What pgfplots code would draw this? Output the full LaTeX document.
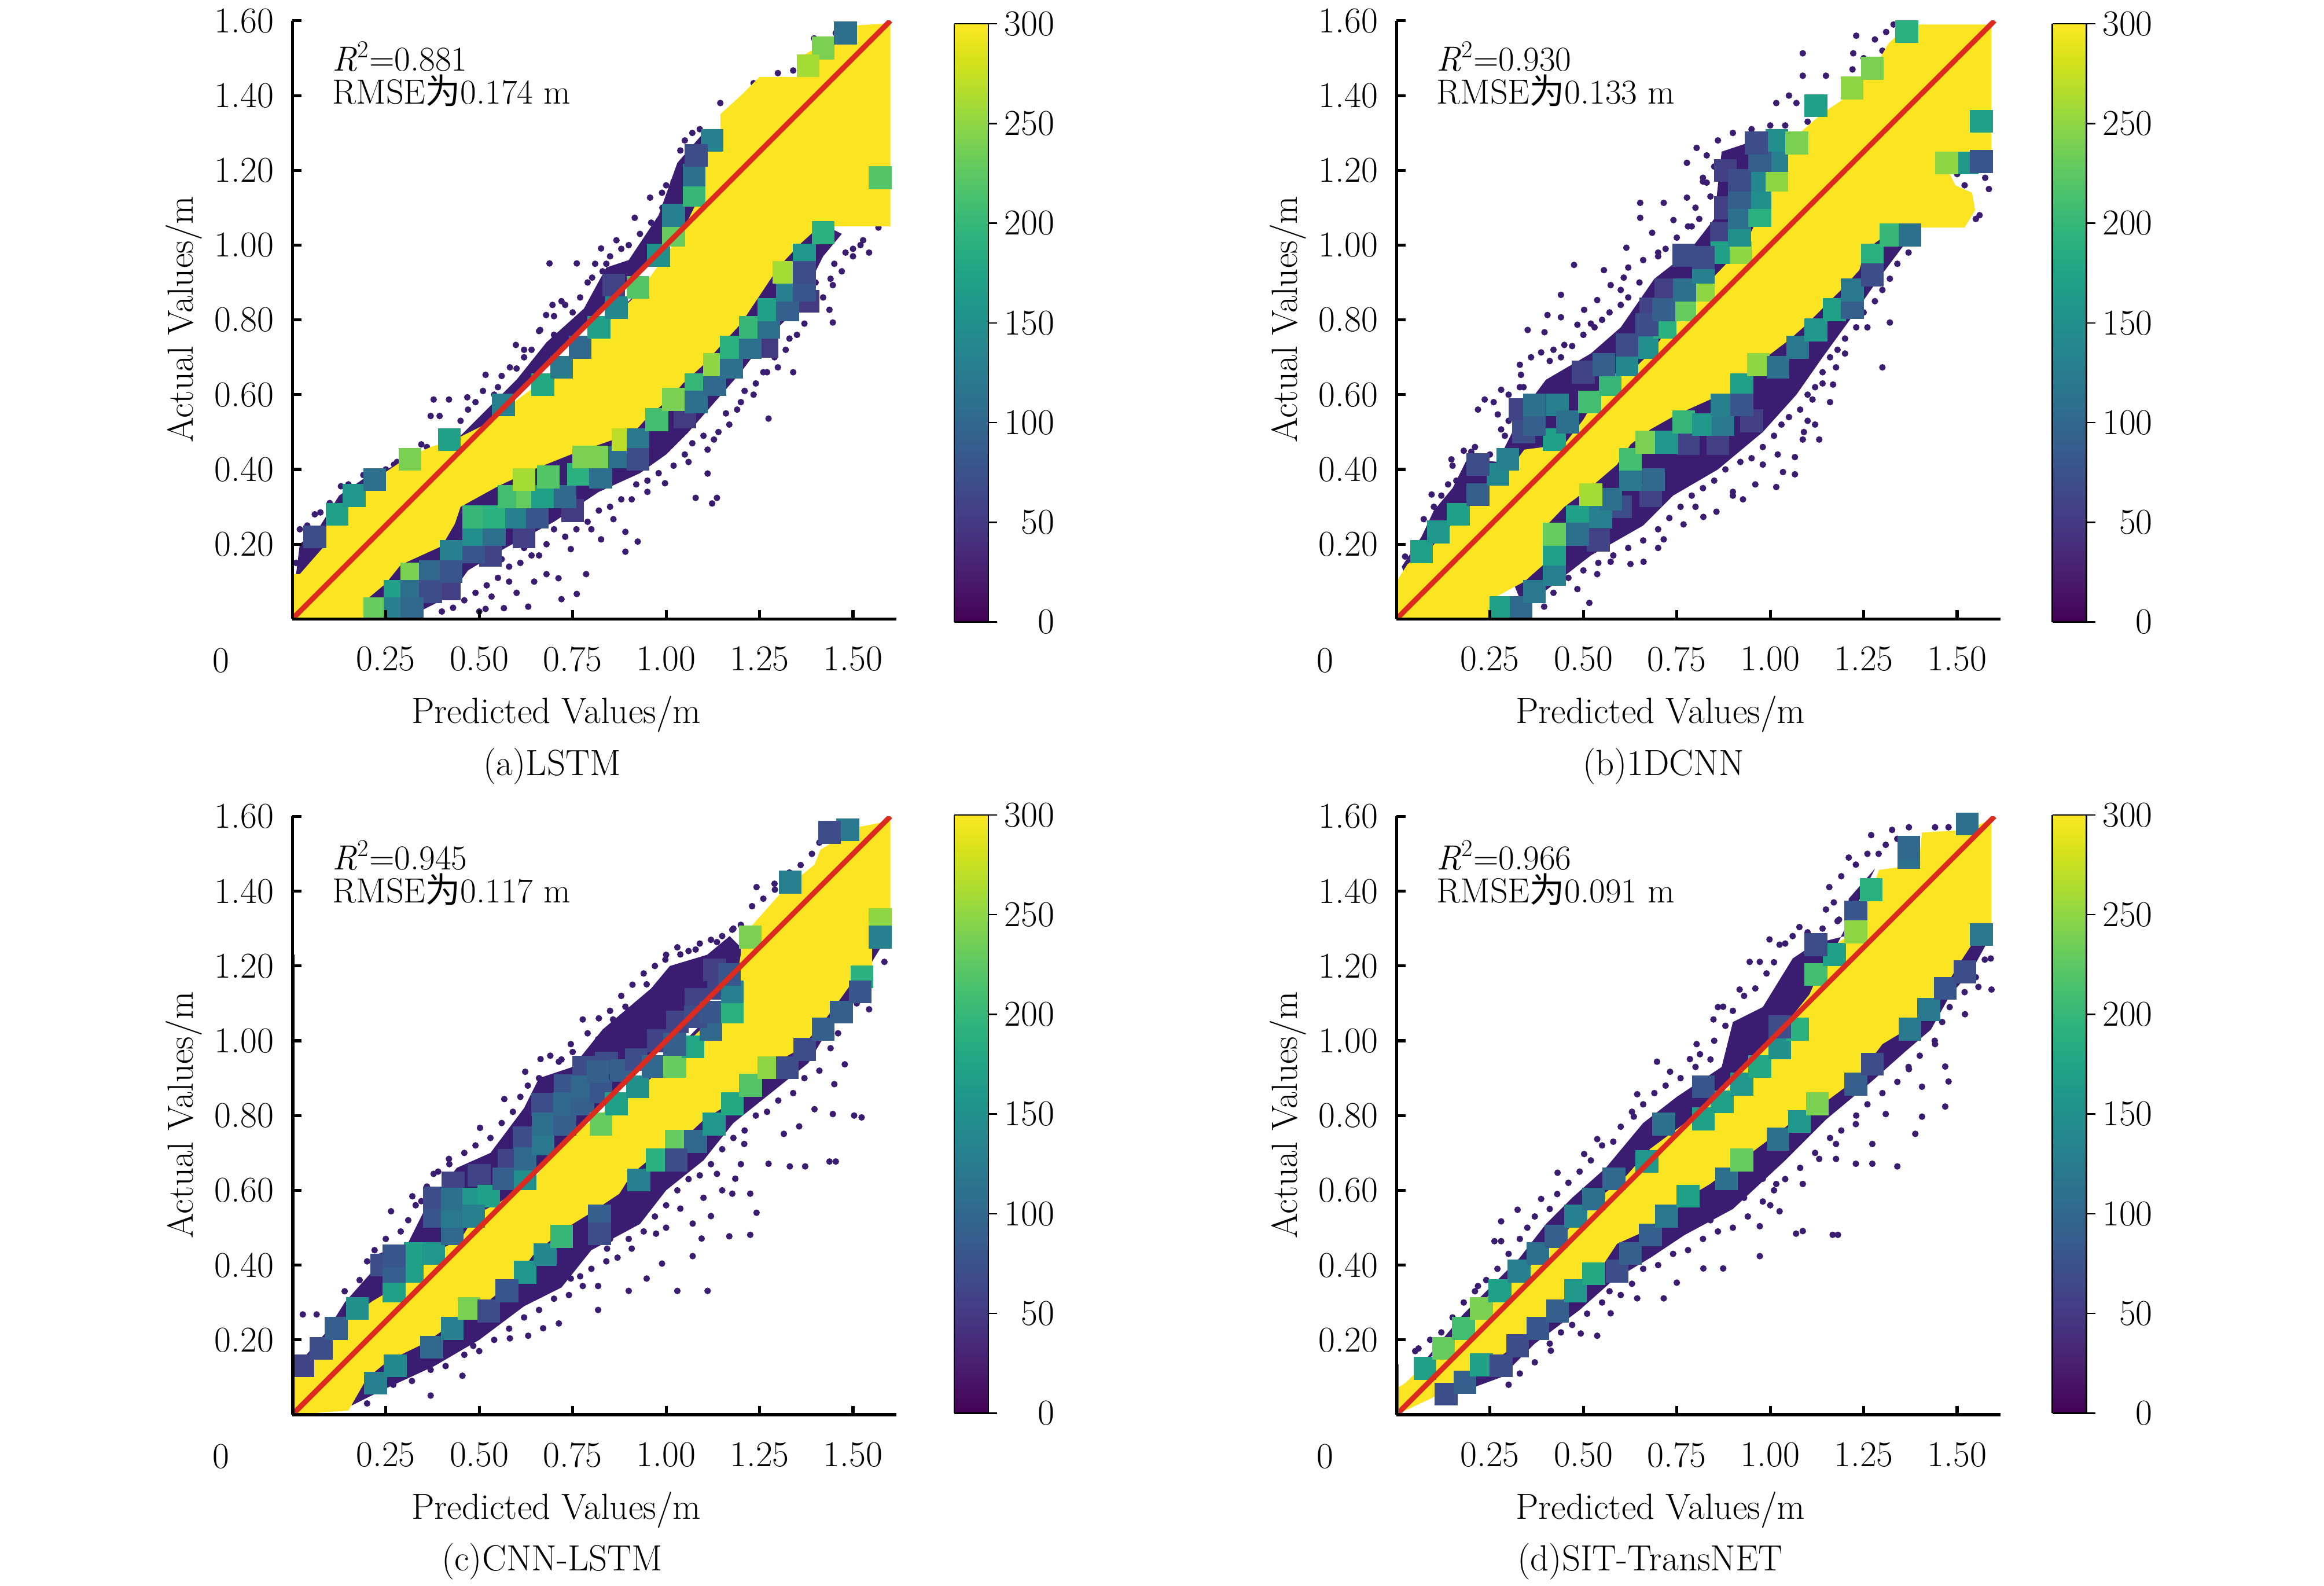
\documentclass[border=0pt]{standalone}
\usepackage{fontspec}
\usepackage{pgfplots}
\pgfplotsset{compat=1.18}
\newfontfamily\cjk{Noto Sans CJK SC}
\newcommand\fs{\fontsize{24.5}{29}\selectfont}
\newcommand\fst{\fontsize{23.5}{28}\selectfont}
\definecolor{ybar}{HTML}{FBE422}
\definecolor{dk}{HTML}{3A1C71}
\definecolor{rline}{HTML}{DC2A1E}
\pgfplotsset{
  /pgf/number format/assume math mode=true,
  tick label style={font=\fs},
  panel/.style={
    scale only axis, width=407pt, height=403pt,
    xmin=0, xmax=1.616, ymin=0, ymax=1.6,
    axis lines=left, axis line style={-, line width=2pt},
    axis on top, clip mode=individual,
    tick align=inside, major tick length=6pt, tick style={line width=2pt, black},
    xtick={0.25,0.5,0.75,1,1.25,1.5},
    ytick={0.2,0.4,0.6,0.8,1,1.2,1.4,1.6},
    xticklabel style={/pgf/number format/fixed,/pgf/number format/fixed zerofill,/pgf/number format/precision=2, yshift=-15pt},
    yticklabel style={/pgf/number format/fixed,/pgf/number format/fixed zerofill,/pgf/number format/precision=2, xshift=-9pt},
    colormap name=viridis, point meta min=0, point meta max=300,
    colorbar sampled,
  },
  cbstyle/.style n args={2}{
    colorbar style={
      at={(#1,#2)}, anchor=north west,
      width=23pt, height=403pt, samples=120,
      ytick={0,50,100,150,200,250,300},
      ytick pos=right, tick align=outside, major tick length=6pt,
      tick style={line width=1pt, black},
      axis line style={line width=1pt},
      yticklabel style={anchor=east, xshift=42pt, font=\fs},
    },
  },
  dark/.style={fill=dk, draw=none},
  yel/.style={fill=ybar, draw=none},
  dots/.style={only marks, mark=*, mark size=2pt, color=dk, mark options={draw=dk, fill=dk}},
  blocks/.style={scatter, only marks, mark=square*, mark size=7.5pt, point meta=explicit,
    scatter/use mapped color={draw=mapped color, fill=mapped color}},
  diag/.style={rline, line width=3.5pt, no marks},
}
\newcommand\labels[6]{%
  \node[anchor=west, font=\fst] at (axis description cs:0.058,#1) {\textit{R}\textsuperscript{2}=#3};
  \node[anchor=west, font=\fst] at (axis description cs:0.058,#2) {RMSE{\cjk 为}#4 m};
  \node[font=\fs] at (axis description cs:-0.118,-0.0695) {0};
  \node[font=\fs] at (axis description cs:0.437,-0.159) {Predicted Values/m};
  \node[font=\fs, rotate=90] at (axis description cs:-0.18,0.501) {Actual Values/m};
  \node[font=\fs] at (axis description cs:#6,-0.246) {#5};
}
\begin{document}
\begin{tikzpicture}
\path[use as bounding box] (0pt,0pt) rectangle (1566pt,1068.4pt);
% ---------------- (a)
\begin{axis}[panel, cbstyle={1.0958}{0.995}, at={(197pt,651.4pt)}, anchor=south west]
\addplot[dark] coordinates {(0.30,0)(0.42,0.06)(0.47,0.13)(0.57,0.19)(0.70,0.26)(0.82,0.34)(0.93,0.39)(1.0,0.44)(1.06,0.50)(1.13,0.58)(1.20,0.66)(1.26,0.74)(1.33,0.81)(1.38,0.89)(1.42,0.97)(1.47,1.03)(1.43,1.05)(1.3,1.25)(0.5,0.45)(0.19,0.15)(0.19,0)} -- cycle;
\addplot[dark] coordinates {(0.01,0.12)(0.02,0.20)(0.075,0.25)(0.125,0.33)(0.205,0.385)(0.29,0.415)(0.45,0.49)(0.52,0.56)(0.60,0.64)(0.68,0.74)(0.78,0.83)(0.84,0.94)(0.90,0.96)(0.98,1.08)(1.03,1.22)(1.10,1.30)(1.1,1.1)(0.6,0.6)(0.3,0.3)(0.05,0.05)} -- cycle;
\addplot[dots] coordinates {(0.688,0.951)(0.761,0.951)(0.916,1.073)(0.826,0.991)(0.867,1.013)(0.802,0.913)(0.696,0.84)(0.679,0.813)(0.663,0.773)(0.598,0.733)(0.517,0.653)(0.582,0.673)(0.378,0.587)(0.37,0.543)(0.394,0.543)(0.468,0.593)(0.419,0.587)(0.345,0.467)(0.272,0.413)(0.06,0.28)(0.02,0.12)(0.077,0.18)(1.038,1.213)(1.038,1.253)(0.957,1.127)(0.989,1.14)(1.145,1.38)(1.234,1.433)(1.299,1.46)(1.34,1.467)(1.396,1.553)(1.454,1.567)(1.543,0.98)(1.527,1.013)(1.568,1.047)(1.446,0.893)(1.437,0.827)(1.446,0.793)(1.34,0.66)(1.274,0.536)(1.299,0.673)(1.234,0.6)(1.169,0.52)(1.128,0.48)(1.111,0.453)(1.111,0.389)(1.079,0.324)(1.136,0.324)(1.123,0.309)(0.997,0.363)(0.891,0.233)(0.924,0.207)(0.891,0.18)(0.786,0.12)(0.712,0.109)(0.761,0.067)(0.72,0.053)(0.68,0.12)(0.631,0.033)(0.566,0.029)(0.533,0.06)(0.517,0.027)(0.647,0.1)(0.745,0.187)(0.826,0.213)(0.859,0.267)(0.908,0.32)(1.40,0.90)(1.38,0.84)(1.33,0.75)(1.26,0.66)(1.20,0.58)(1.06,0.42)(0.95,0.34)(0.80,0.24)(0.66,0.17)(0.58,0.10)(1.50,0.99)(1.47,0.93)(0.55,0.62)(0.62,0.72)(0.72,0.85)(0.84,0.95)(0.98,1.05)(1.02,1.17)
(0.02,0.24)(0.04,0.25)(0.01,0.15)(0.03,0.17)(0.075,0.285)(0.10,0.31)(0.13,0.355)(0.15,0.36)(0.19,0.385)(0.25,0.40)(0.28,0.42)(0.36,0.46)(0.40,0.49)(0.45,0.53)(0.47,0.56)(0.49,0.58)(0.51,0.61)(0.54,0.60)(0.56,0.65)(0.60,0.67)(0.62,0.70)(0.64,0.72)(0.66,0.77)(0.70,0.76)(0.70,0.81)(0.73,0.84)(0.75,0.82)(0.77,0.86)(0.79,0.90)(0.81,0.95)(0.83,0.93)(0.85,0.97)(0.88,0.99)(0.90,1.00)(0.93,1.03)(0.96,1.06)(0.99,1.10)(1.00,1.16)(1.03,1.19)(1.05,1.28)(1.07,1.30)(1.09,1.31)
(1.52,1.0)(1.50,0.97)(1.48,0.98)(1.45,0.95)(1.44,0.91)(1.42,0.86)(1.39,0.84)(1.37,0.79)(1.35,0.76)(1.32,0.72)(1.29,0.70)(1.27,0.66)(1.24,0.63)(1.21,0.61)(1.19,0.56)(1.16,0.55)(1.14,0.50)(1.10,0.49)(1.07,0.47)(1.05,0.44)(1.02,0.41)(0.98,0.39)(0.95,0.37)(0.92,0.36)(0.88,0.32)(0.85,0.30)(0.82,0.29)(0.79,0.26)(0.76,0.24)(0.73,0.22)(0.70,0.24)(0.68,0.20)(0.64,0.17)(0.61,0.15)(0.58,0.14)(0.55,0.11)(0.52,0.09)(0.49,0.07)(0.46,0.05)(0.43,0.03)(0.40,0.02)(0.60,0.07)(0.50,0.02)(0.56,0.16)(0.62,0.19)};
\addplot[yel] coordinates {(0,0.12)(0.02,0.12)(0.09,0.20)(0.09,0.27)(0.17,0.32)(0.215,0.37)(0.305,0.43)(0.37,0.46)(0.435,0.48)(0.515,0.52)(0.58,0.57)(0.66,0.63)(0.745,0.71)(0.84,0.79)(0.925,0.87)(0.99,0.96)(1.04,1.03)(1.08,1.11)(1.10,1.19)(1.10,1.25)(1.145,1.29)(1.145,1.35)(1.20,1.40)(1.25,1.45)(1.35,1.45)(1.355,1.50)(1.445,1.555)(1.495,1.587)(1.6,1.593)(1.6,1.05)(1.41,1.05)(1.355,1.0)(1.30,0.94)(1.24,0.85)(1.20,0.79)(1.145,0.73)(1.10,0.68)(1.045,0.63)(1.005,0.585)(0.955,0.545)(0.91,0.495)(0.86,0.48)(0.745,0.44)(0.645,0.40)(0.55,0.355)(0.45,0.30)(0.435,0.255)(0.40,0.195)(0.29,0.145)(0.25,0.095)(0.19,0.045)(0.19,0)(0,0)} -- cycle;
\addplot[blocks] coordinates {(0.42,0.08)[55](0.53,0.17)[60](0.62,0.22)[55](0.75,0.29)[50](1.05,0.54)[50](1.27,0.73)[50](1.38,0.85)[50]};
\addplot[blocks] coordinates {(0.06,0.22)[70](0.12,0.28)[170](0.165,0.33)[160](0.22,0.373)[110](0.315,0.427)[240](0.42,0.48)[170](0.565,0.573)[130](0.67,0.627)[180](0.72,0.673)[120](0.77,0.727)[100](0.82,0.78)[170](0.867,0.833)[140](0.925,0.887)[220](0.98,0.973)[150](1.02,1.027)[230](1.02,1.08)[130](1.075,1.133)[200](1.075,1.187)[110](1.123,1.28)[130](1.42,1.527)[240](1.38,1.48)[260](1.48,1.567)[110](1.08,1.24)[70](0.86,0.893)[60](1.573,1.18)[220]
(0.22,0.027)[230](0.275,0.073)[170](0.275,0.027)[130](0.32,0.12)[240](0.32,0.073)[110](0.37,0.127)[100](0.37,0.073)[70](0.32,0.027)[100](0.425,0.18)[130](0.485,0.18)[80](0.425,0.127)[80](0.485,0.227)[150](0.54,0.227)[110](0.485,0.273)[200](0.54,0.273)[190](0.6,0.273)[130](0.655,0.273)[80](0.58,0.327)[210](0.63,0.327)[230](0.67,0.327)[170](0.73,0.327)[100](0.62,0.373)[260](0.685,0.38)[220](0.765,0.387)[190](0.825,0.38)[110](0.78,0.433)[240](0.825,0.433)[240](0.875,0.433)[110](0.885,0.48)[270](0.925,0.48)[120](0.925,0.427)[70](0.975,0.533)[210](1.02,0.587)[240](1.08,0.627)[200](1.08,0.58)[110](1.13,0.627)[100](1.13,0.68)[250](1.175,0.673)[110](1.175,0.727)[190](1.225,0.727)[110](1.225,0.78)[200](1.275,0.78)[110](1.275,0.827)[170](1.325,0.827)[90](1.325,0.88)[130](1.37,0.88)[80](1.315,0.927)[260](1.37,0.973)[160](1.37,0.927)[70](1.42,1.033)[190]};
\addplot[diag] coordinates {(0,0)(1.6,1.6)};
\labels{0.94}{0.883}{0.881}{0.174}{(a)LSTM}{0.43}
\end{axis}
% ---------------- (b)
\begin{axis}[panel, cbstyle={1.086}{0.995}, at={(941pt,651.4pt)}, anchor=south west]
\addplot[dark] coordinates {(0.014,0.14)(0.067,0.22)(0.10,0.29)(0.15,0.35)(0.19,0.43)(0.27,0.42)(0.34,0.56)(0.40,0.64)(0.52,0.71)(0.60,0.78)(0.69,0.91)(0.78,0.98)(0.85,1.07)(0.87,1.25)(0.99,1.29)(1.07,1.30)(1.1,1.1)(0.6,0.6)(0.3,0.3)(0.05,0.05)} -- cycle;
\addplot[dark] coordinates {(0.34,0.03)(0.43,0.10)(0.52,0.17)(0.66,0.25)(0.74,0.33)(0.86,0.40)(0.98,0.50)(1.07,0.60)(1.14,0.70)(1.22,0.81)(1.29,0.91)(1.35,0.99)(1.39,1.04)(1.3,1.25)(0.5,0.45)(0.27,0.2)} -- cycle;
\addplot[dots] coordinates {(1.087,1.513)(1.23,1.56)(1.222,1.513)(1.087,1.453)(1.149,1.453)(1.016,1.38)(1.07,1.38)(0.803,1.26)(0.777,1.22)(0.83,1.167)(0.777,1.127)(0.715,1.113)(0.652,1.113)(0.652,1.073)(0.741,1.067)(0.684,1.033)(0.615,0.993)(0.475,0.947)(0.555,0.933)(0.608,0.913)(0.573,0.893)(0.44,0.867)(0.537,0.853)(0.502,0.827)(0.404,0.813)(0.44,0.807)(0.351,0.773)(0.396,0.767)(0.484,0.787)(0.449,0.733)(0.387,0.713)(0.333,0.653)(0.28,0.613)(0.236,0.587)(0.218,0.56)(0.271,0.547)(0.28,0.507)(0.2,0.447)(0.147,0.427)(0.138,0.36)(0.094,0.333)(0.073,0.267)(0.023,0.167)
(1.3,0.673)(1.32,0.793)(1.176,0.673)(1.168,0.627)(1.113,0.587)(1.131,0.48)(1.087,0.48)(1.066,0.433)(1.034,0.393)(1.066,0.387)(1.016,0.353)(0.98,0.413)(0.927,0.32)(0.856,0.287)(0.821,0.273)(0.768,0.253)(0.715,0.213)(0.661,0.153)(0.626,0.147)(0.573,0.153)(0.537,0.12)(0.484,0.08)(0.516,0.043)(0.395,0.033)(0.70,0.19)(0.80,0.30)(0.90,0.34)(1.02,0.44)(1.10,0.53)(1.14,0.63)(1.20,0.71)(1.26,0.78)(0.34,0.62)(0.42,0.72)(0.52,0.79)(0.60,0.88)(0.70,0.98)(0.79,1.05)(0.82,1.18)
(0.10,0.30)(0.12,0.33)(0.16,0.37)(0.15,0.41)(0.18,0.45)(0.21,0.46)(0.25,0.44)(0.29,0.49)(0.30,0.53)(0.26,0.58)(0.30,0.60)(0.33,0.62)(0.33,0.68)(0.36,0.70)(0.41,0.69)(0.44,0.70)(0.47,0.73)(0.50,0.76)(0.53,0.78)(0.55,0.80)(0.57,0.82)(0.60,0.84)(0.62,0.86)(0.65,0.90)(0.62,0.94)(0.66,0.96)(0.70,0.97)(0.72,0.99)(0.75,1.02)(0.78,1.05)(0.81,1.07)(0.80,1.10)(0.84,1.13)(0.82,1.17)(0.85,1.21)(0.83,1.24)(0.86,1.28)(0.90,1.30)(0.95,1.31)(1.00,1.32)(1.04,1.32)(1.10,1.33)(1.12,1.38)(1.05,1.40)(1.22,1.47)(1.25,1.50)(1.28,1.55)(1.31,1.57)(1.33,1.59)(1.30,1.52)
(0.42,0.07)(0.46,0.11)(0.50,0.13)(0.54,0.15)(0.58,0.17)(0.62,0.19)(0.66,0.21)(0.70,0.24)(0.73,0.27)(0.76,0.30)(0.79,0.33)(0.82,0.35)(0.85,0.37)(0.88,0.40)(0.92,0.42)(0.95,0.43)(0.98,0.46)(1.01,0.49)(1.03,0.52)(1.05,0.54)(1.08,0.56)(1.10,0.60)(1.12,0.62)(1.14,0.66)(1.16,0.70)(1.18,0.72)(1.20,0.75)(1.23,0.78)(1.25,0.82)(1.28,0.85)(1.30,0.88)(1.32,0.91)(1.34,0.95)(1.37,0.98)(1.39,1.01)(0.96,0.36)(0.90,0.33)(1.09,0.50)(1.12,0.52)(1.16,0.58)(1.585,1.15)(1.575,1.18)(1.56,1.08)(1.55,1.07)(1.50,1.19)(1.52,1.16)(1.55,1.20)};
\addplot[yel] coordinates {(0,0.10)(0.03,0.147)(0.095,0.193)(0.147,0.253)(0.2,0.307)(0.245,0.353)(0.298,0.393)(0.342,0.453)(0.449,0.467)(0.50,0.533)(0.555,0.627)(0.626,0.66)(0.688,0.72)(0.741,0.80)(0.803,0.867)(0.892,0.96)(0.945,1.027)(0.989,1.12)(1.034,1.2)(1.05,1.253)(1.087,1.307)(1.14,1.353)(1.21,1.4)(1.282,1.48)(1.317,1.54)(1.353,1.573)(1.397,1.59)(1.592,1.59)(1.592,1.24)(1.46,1.233)(1.495,1.16)(1.54,1.14)(1.548,1.093)(1.52,1.047)(1.406,1.047)(1.309,1.027)(1.255,0.987)(1.238,0.933)(1.202,0.893)(1.149,0.84)(1.096,0.787)(1.051,0.747)(0.989,0.70)(0.936,0.653)(0.892,0.60)(0.839,0.587)(0.75,0.547)(0.679,0.507)(0.626,0.467)(0.59,0.413)(0.52,0.353)(0.449,0.30)(0.404,0.253)(0.395,0.147)(0.342,0.10)(0.254,0.053)(0.245,0)(0,0)} -- cycle;
\addplot[blocks] coordinates {(0.34,0.50)[70](0.33,0.56)[60](0.5,0.66)[60](0.68,0.83)[60](0.72,0.88)[55](0.87,1.03)[60](0.88,1.1)[55](0.88,1.2)[55](0.54,0.21)[60](0.60,0.30)[70](0.68,0.33)[60](0.78,0.47)[60](0.86,0.47)[55](0.95,0.53)[55]};
\addplot[blocks] coordinates {(0.067,0.18)[170](0.112,0.233)[160](0.165,0.28)[170](0.218,0.333)[90](0.271,0.387)[140](0.298,0.427)[130](0.218,0.413)[70](0.422,0.48)[170](0.369,0.52)[90](0.369,0.573)[110](0.431,0.573)[130](0.458,0.527)[110](0.517,0.58)[210](0.572,0.627)[200](0.617,0.68)[140](0.555,0.68)[90](0.67,0.727)[150](0.617,0.733)[70](0.718,0.78)[190](0.67,0.787)[70](0.771,0.827)[230](0.715,0.827)[90](0.821,0.88)[250](0.771,0.88)[110](0.821,0.927)[130](0.768,0.973)[70](0.871,0.98)[170](0.922,0.98)[250](0.821,0.967)[70](0.918,1.027)[150](0.918,1.073)[110](0.972,1.08)[190](0.972,1.127)[150](0.918,1.127)[90](0.972,1.173)[140](1.018,1.173)[250](0.918,1.173)[70](1.018,1.227)[130](0.972,1.227)[90](1.018,1.28)[150](1.071,1.273)[240](0.963,1.273)[70](1.122,1.373)[170](1.219,1.42)[250](1.273,1.473)[240](1.365,1.571)[190](1.565,1.331)[170](1.526,1.22)[160](1.472,1.22)[250](1.565,1.224)[80]
(0.28,0.03)[170](0.333,0.03)[100](0.369,0.073)[120](0.422,0.12)[130](0.422,0.173)[170](0.422,0.227)[230](0.484,0.273)[170](0.546,0.273)[130](0.484,0.227)[110](0.573,0.32)[110](0.52,0.333)[260](0.626,0.373)[120](0.688,0.373)[100](0.626,0.427)[210](0.67,0.473)[240](0.723,0.473)[160](0.768,0.527)[200](0.821,0.52)[160](0.874,0.52)[120](0.871,0.573)[130](0.924,0.627)[170](0.924,0.573)[80](0.968,0.68)[250](1.021,0.673)[110](1.073,0.727)[120](1.122,0.773)[160](1.172,0.827)[170](1.22,0.833)[90](1.22,0.88)[120](1.273,0.973)[190](1.323,1.027)[200](1.374,1.027)[110](1.273,0.92)[70]};
\addplot[diag] coordinates {(0,0)(1.6,1.6)};
\labels{0.94}{0.883}{0.930}{0.133}{(b)1DCNN}{0.442}
\end{axis}
% ---------------- (c)
\begin{axis}[panel, cbstyle={1.0958}{1.0025}, at={(197pt,115.4pt)}, anchor=south west]
\addplot[dark] coordinates {(0.011,0.13)(0.09,0.22)(0.14,0.30)(0.22,0.39)(0.23,0.43)(0.31,0.46)(0.36,0.56)(0.44,0.66)(0.53,0.70)(0.62,0.82)(0.66,0.90)(0.75,0.93)(0.83,1.03)(0.96,1.14)(1.01,1.20)(1.11,1.23)(1.17,1.28)(1.20,1.25)(1.2,1.2)(0.6,0.6)(0.2,0.2)(0.05,0.05)} -- cycle;
\addplot[dark] coordinates {(0.158,0.024)(0.25,0.07)(0.38,0.13)(0.50,0.20)(0.62,0.29)(0.72,0.34)(0.80,0.44)(0.93,0.51)(1.0,0.60)(1.10,0.68)(1.18,0.78)(1.28,0.86)(1.38,0.94)(1.44,1.04)(1.50,1.12)(1.55,1.21)(1.6,1.291)(1.55,1.5)(0.6,0.55)(0.2,0.15)} -- cycle;
\addplot[dots] coordinates {(0.028,0.268)(0.065,0.268)(0.264,0.544)(0.321,0.584)(0.345,0.571)(0.419,0.684)(0.378,0.644)(0.502,0.767)(0.567,0.844)(0.623,0.917)(0.664,0.951)(0.713,0.944)(0.745,0.991)(0.777,1.057)(0.818,1.004)(0.858,1.057)(0.891,1.091)(0.948,1.151)(0.998,1.217)(1.038,1.231)(1.079,1.244)(1.242,1.411)(1.291,1.404)(1.177,1.297)(1.136,1.264)
(0.37,0.051)(0.455,0.104)(0.484,0.184)(0.582,0.204)(0.671,0.231)(0.713,0.244)(0.818,0.28)(0.631,0.211)(0.777,0.344)(0.818,0.344)(0.9,0.331)(0.948,0.364)(1.03,0.331)(1.111,0.331)(1.071,0.424)(1.169,0.477)(1.225,0.481)(1.095,0.471)(1.12,0.531)(1.242,0.54)(1.177,0.591)(1.225,0.591)(1.274,0.671)(1.331,0.664)(1.372,0.664)(1.437,0.677)(1.454,0.677)(1.315,0.751)(1.356,0.771)(1.446,0.804)(1.503,0.8)(1.523,0.795)(1.45,0.884)(1.543,1.084)(1.584,1.211)(1.478,0.937)(1.397,0.817)(0.973,0.484)(0.908,0.444)(0.989,0.404)(0.842,0.444)(0.745,0.364)(1.071,0.511)(1.038,0.551)(1.209,0.724)(1.185,0.631)(1.136,0.644)
(0.10,0.25)(0.14,0.33)(0.18,0.36)(0.20,0.41)(0.22,0.44)(0.25,0.47)(0.29,0.49)(0.31,0.52)(0.33,0.56)(0.36,0.61)(0.39,0.65)(0.42,0.67)(0.46,0.70)(0.49,0.72)(0.53,0.74)(0.56,0.78)(0.59,0.81)(0.61,0.85)(0.63,0.88)(0.66,0.90)(0.69,0.96)(0.72,0.95)(0.75,0.97)(0.79,1.02)(0.82,1.06)(0.85,1.08)(0.88,1.12)(0.91,1.15)(0.94,1.18)(0.97,1.20)(1.00,1.23)(1.03,1.25)(1.06,1.24)(1.09,1.26)(1.12,1.27)(1.15,1.28)(1.18,1.30)(1.20,1.31)(1.23,1.36)(1.26,1.38)(1.29,1.42)(1.33,1.45)(1.36,1.47)(1.41,1.53)(1.39,1.50)(1.43,1.56)
(0.20,0.03)(0.27,0.08)(0.32,0.09)(0.37,0.12)(0.41,0.13)(0.46,0.16)(0.50,0.17)(0.54,0.20)(0.58,0.23)(0.62,0.26)(0.66,0.28)(0.70,0.31)(0.74,0.32)(0.77,0.37)(0.80,0.39)(0.84,0.41)(0.87,0.42)(0.90,0.47)(0.94,0.49)(0.97,0.53)(1.00,0.56)(1.03,0.60)(1.06,0.63)(1.09,0.64)(1.12,0.67)(1.15,0.71)(1.18,0.74)(1.21,0.76)(1.24,0.80)(1.27,0.81)(1.30,0.84)(1.34,0.86)(1.37,0.90)(1.41,0.92)(1.44,0.98)(1.46,1.02)(1.49,1.06)(1.51,1.10)(0.85,0.47)(0.92,0.55)(1.0,0.50)(0.95,0.60)(1.10,0.58)(1.15,0.60)(1.2,0.67)};
\addplot[yel] coordinates {(0,0.11)(0.036,0.15)(0.093,0.184)(0.15,0.257)(0.215,0.304)(0.305,0.357)(0.386,0.437)(0.451,0.47)(0.492,0.537)(0.549,0.564)(0.647,0.631)(0.729,0.737)(0.81,0.791)(0.891,0.857)(0.957,0.897)(1.038,0.977)(1.12,1.057)(1.193,1.191)(1.209,1.284)(1.25,1.331)(1.315,1.404)(1.397,1.471)(1.413,1.511)(1.511,1.571)(1.6,1.588)(1.6,1.297)(1.551,1.284)(1.551,1.191)(1.494,1.151)(1.446,1.084)(1.405,1.031)(1.356,0.977)(1.283,0.937)(1.218,0.884)(1.169,0.831)(1.103,0.791)(1.046,0.737)(0.957,0.684)(0.908,0.644)(0.875,0.591)(0.794,0.537)(0.729,0.497)(0.647,0.431)(0.598,0.364)(0.5,0.284)(0.419,0.237)(0.354,0.191)(0.256,0.144)(0.199,0.097)(0.15,0.011)(0,0)} -- cycle;
\addplot[blocks] coordinates {(0.58,0.68)[60](0.62,0.74)[70](0.67,0.83)[70](0.73,0.88)[80](0.78,0.93)[70](0.84,0.94)[70](0.88,0.92)[90](0.92,0.95)[70](0.98,1.0)[60](1.03,1.05)[60](1.08,1.11)[60](0.5,0.64)[60](0.38,0.53)[80](0.38,0.58)[70](0.43,0.62)[60](0.24,0.40)[70](1.14,1.14)[60](1.13,1.19)[55]};
\addplot[blocks] coordinates {(0.028,0.131)[60](0.077,0.177)[70](0.117,0.231)[90](0.174,0.284)[150](0.272,0.331)[170](0.321,0.384)[170](0.272,0.384)[90](0.329,0.431)[170](0.378,0.431)[160](0.272,0.424)[80](0.428,0.484)[100](0.428,0.531)[120](0.428,0.577)[110](0.485,0.577)[160](0.525,0.584)[170](0.485,0.531)[130](0.566,0.631)[90](0.623,0.631)[150](0.623,0.684)[100](0.671,0.724)[120](0.671,0.777)[110](0.729,0.777)[90](0.729,0.831)[100](0.777,0.831)[90](0.777,0.877)[100](0.826,0.864)[80](0.826,0.777)[230](0.867,0.831)[170](0.924,0.877)[150](0.818,0.917)[90](0.965,0.931)[100](1.023,0.931)[230](1.072,0.984)[180](1.023,0.991)[90](1.12,1.031)[100](1.079,1.064)[70](1.12,1.077)[80](1.177,1.077)[190](1.177,1.131)[130](1.169,1.177)[80](1.225,1.277)[240](1.332,1.424)[130](1.486,1.564)[120](1.437,1.557)[70]
(0.223,0.084)[130](0.275,0.131)[140](0.373,0.18)[100](0.428,0.231)[130](0.473,0.284)[240](0.525,0.277)[70](0.623,0.381)[160](0.574,0.331)[80](0.676,0.428)[140](0.72,0.477)[200](0.822,0.531)[90](0.822,0.484)[70](0.927,0.628)[130](0.976,0.681)[190](1.027,0.731)[230](1.079,0.731)[100](1.027,0.681)[70](1.128,0.777)[160](1.177,0.831)[180](1.226,0.881)[220](1.275,0.928)[250](1.324,0.928)[70](1.371,0.977)[70](1.42,1.031)[90](1.469,1.077)[90](1.524,1.171)[190](1.519,1.131)[80](1.573,1.324)[250](1.573,1.277)[130]};
\addplot[diag] coordinates {(0,0)(1.6,1.6)};
\addplot[black, line width=3pt, no marks] coordinates {(0,0)(0,1.23)};
\labels{0.935}{0.878}{0.945}{0.117}{(c)CNN-LSTM}{0.43}
\end{axis}
% ---------------- (d)
\begin{axis}[panel, cbstyle={1.086}{1.0025}, at={(941pt,115.4pt)}, anchor=south west]
\addplot[dark] coordinates {(0.08,0.15)(0.13,0.21)(0.18,0.27)(0.25,0.34)(0.33,0.42)(0.40,0.51)(0.47,0.58)(0.56,0.66)(0.66,0.78)(0.75,0.85)(0.87,0.93)(0.90,1.05)(0.98,1.09)(1.06,1.22)(1.12,1.26)(1.20,1.28)(1.21,1.38)(1.28,1.46)(1.1,1.1)(0.6,0.6)(0.2,0.2)} -- cycle;
\addplot[dark] coordinates {(0.13,0.045)(0.28,0.10)(0.37,0.19)(0.49,0.28)(0.58,0.36)(0.68,0.42)(0.77,0.48)(0.90,0.55)(1.04,0.68)(1.15,0.79)(1.27,0.89)(1.36,0.97)(1.43,1.03)(1.48,1.12)(1.54,1.19)(1.59,1.28)(1.55,1.5)(0.6,0.55)(0.2,0.15)} -- cycle;
\addplot[dots] coordinates {(0.697,0.944)(0.785,0.951)(0.732,0.917)(0.812,0.964)(0.644,0.857)(0.635,0.797)(0.537,0.737)(0.502,0.697)(0.431,0.647)(0.387,0.577)(0.324,0.548)(0.28,0.517)(0.262,0.464)(0.28,0.464)(0.059,0.177)(0.218,0.344)(0.848,1.057)(0.874,1.091)(0.945,1.211)(0.972,1.211)(0.998,1.271)(1.025,1.257)(1.078,1.304)(0.918,1.137)(0.803,0.991)(1.158,1.411)(1.149,1.351)(1.184,1.324)(1.229,1.471)(1.309,1.524)(1.326,1.564)(1.371,1.571)(1.441,1.571)(1.477,1.571)
(0.537,0.211)(0.493,0.217)(0.413,0.171)(0.573,0.271)(0.715,0.311)(0.644,0.311)(0.75,0.353)(0.821,0.391)(0.874,0.391)(0.972,0.424)(1.069,0.484)(1.087,0.491)(1.167,0.481)(1.181,0.481)(0.972,0.504)(1.025,0.544)(1.087,0.617)(1.131,0.684)(1.176,0.684)(1.229,0.671)(1.273,0.671)(1.34,0.664)(1.388,0.751)(1.273,0.724)(1.309,0.804)(1.406,0.797)(1.468,0.824)(1.477,0.891)(1.468,0.931)(1.406,0.877)(1.521,1.071)(1.557,1.144)(1.592,1.137)(1.574,1.217)(1.441,0.991)(1.371,0.924)(1.229,0.777)(1.176,0.724)(1.016,0.617)(0.98,0.631)
(0.05,0.17)(0.09,0.20)(0.12,0.22)(0.15,0.26)(0.18,0.30)(0.21,0.33)(0.24,0.36)(0.27,0.39)(0.30,0.43)(0.33,0.47)(0.35,0.50)(0.37,0.53)(0.41,0.55)(0.43,0.59)(0.46,0.62)(0.49,0.65)(0.52,0.68)(0.55,0.72)(0.58,0.73)(0.60,0.77)(0.63,0.81)(0.66,0.83)(0.69,0.86)(0.72,0.88)(0.76,0.90)(0.80,0.93)(0.84,0.95)(0.85,1.00)(0.88,1.04)(0.86,1.09)(0.90,1.08)(0.93,1.12)(0.96,1.14)(0.99,1.18)(1.01,1.21)(1.04,1.26)(1.06,1.28)(1.10,1.29)(1.14,1.30)(1.18,1.32)(1.17,1.37)(1.19,1.44)(1.21,1.49)(1.26,1.50)(1.29,1.50)(1.34,1.54)(1.27,1.55)
(0.20,0.07)(0.30,0.08)(0.33,0.11)(0.37,0.14)(0.41,0.19)(0.44,0.22)(0.47,0.24)(0.51,0.27)(0.55,0.30)(0.57,0.33)(0.60,0.32)(0.63,0.35)(0.66,0.39)(0.70,0.40)(0.74,0.43)(0.78,0.44)(0.82,0.47)(0.86,0.49)(0.90,0.50)(0.94,0.53)(0.98,0.57)(1.01,0.60)(1.04,0.63)(1.08,0.66)(1.12,0.70)(1.16,0.74)(1.19,0.76)(1.23,0.80)(1.26,0.83)(1.30,0.86)(1.34,0.89)(1.37,0.93)(1.40,0.96)(1.44,1.00)(1.46,1.05)(1.48,1.09)(1.52,1.13)(1.55,1.17)(1.59,1.22)(0.70,0.50)(0.76,0.50)(0.84,0.52)(0.88,0.55)(0.93,0.58)(1.0,0.56)};
\addplot[yel] coordinates {(0,0.07)(0.023,0.084)(0.05,0.11)(0.094,0.137)(0.165,0.211)(0.236,0.311)(0.324,0.364)(0.378,0.417)(0.449,0.484)(0.52,0.564)(0.608,0.631)(0.679,0.711)(0.768,0.777)(0.874,0.857)(0.963,0.964)(1.051,1.057)(1.105,1.124)(1.158,1.244)(1.229,1.297)(1.264,1.377)(1.291,1.457)(1.397,1.471)(1.406,1.557)(1.53,1.564)(1.592,1.593)(1.592,1.297)(1.548,1.271)(1.504,1.204)(1.441,1.097)(1.388,1.044)(1.3,0.991)(1.229,0.897)(1.158,0.844)(1.069,0.791)(0.998,0.737)(0.91,0.671)(0.839,0.617)(0.75,0.564)(0.679,0.497)(0.59,0.457)(0.537,0.377)(0.449,0.311)(0.378,0.231)(0.289,0.164)(0.183,0.097)(0.094,0.044)(0.023,0.011)(0,0)} -- cycle;
\addplot[blocks] coordinates {(0.076,0.124)[170](0.126,0.177)[230](0.179,0.231)[210](0.227,0.284)[240](0.277,0.331)[170](0.328,0.384)[130](0.378,0.431)[110](0.427,0.477)[90](0.48,0.531)[130](0.528,0.577)[110](0.582,0.631)[100](0.67,0.677)[160](0.715,0.777)[110](0.821,0.791)[170](0.871,0.837)[170](0.924,0.884)[160](0.821,0.877)[80](0.972,0.931)[180](1.025,0.981)[150](1.073,1.031)[190](1.025,1.037)[70](1.122,1.177)[210](1.172,1.231)[170](1.122,1.257)[70](1.229,1.344)[80](1.27,1.404)[190](1.229,1.291)[250](1.371,1.491)[110](1.371,1.517)[100](1.527,1.58)[110]
(0.133,0.055)[70](0.183,0.087)[90](0.227,0.133)[170](0.28,0.131)[70](0.324,0.184)[70](0.378,0.231)[80](0.431,0.277)[90](0.479,0.331)[160](0.528,0.377)[180](0.59,0.384)[70](0.626,0.431)[90](0.679,0.481)[90](0.723,0.531)[120](0.78,0.584)[170](0.883,0.631)[110](0.924,0.681)[230](1.021,0.737)[110](1.078,0.784)[160](1.126,0.831)[240](1.229,0.884)[90](1.273,0.937)[70](1.374,1.031)[120](1.424,1.084)[120](1.468,1.14)[80](1.521,1.184)[70](1.565,1.284)[120]};
\addplot[diag] coordinates {(0,0)(1.6,1.6)};
\addplot[gray!70!black, line width=3pt, no marks] coordinates {(0,0)(0,0.135)};
\labels{0.935}{0.878}{0.966}{0.091}{(d)SIT-TransNET}{0.42}
\end{axis}
\end{tikzpicture}
\end{document}
